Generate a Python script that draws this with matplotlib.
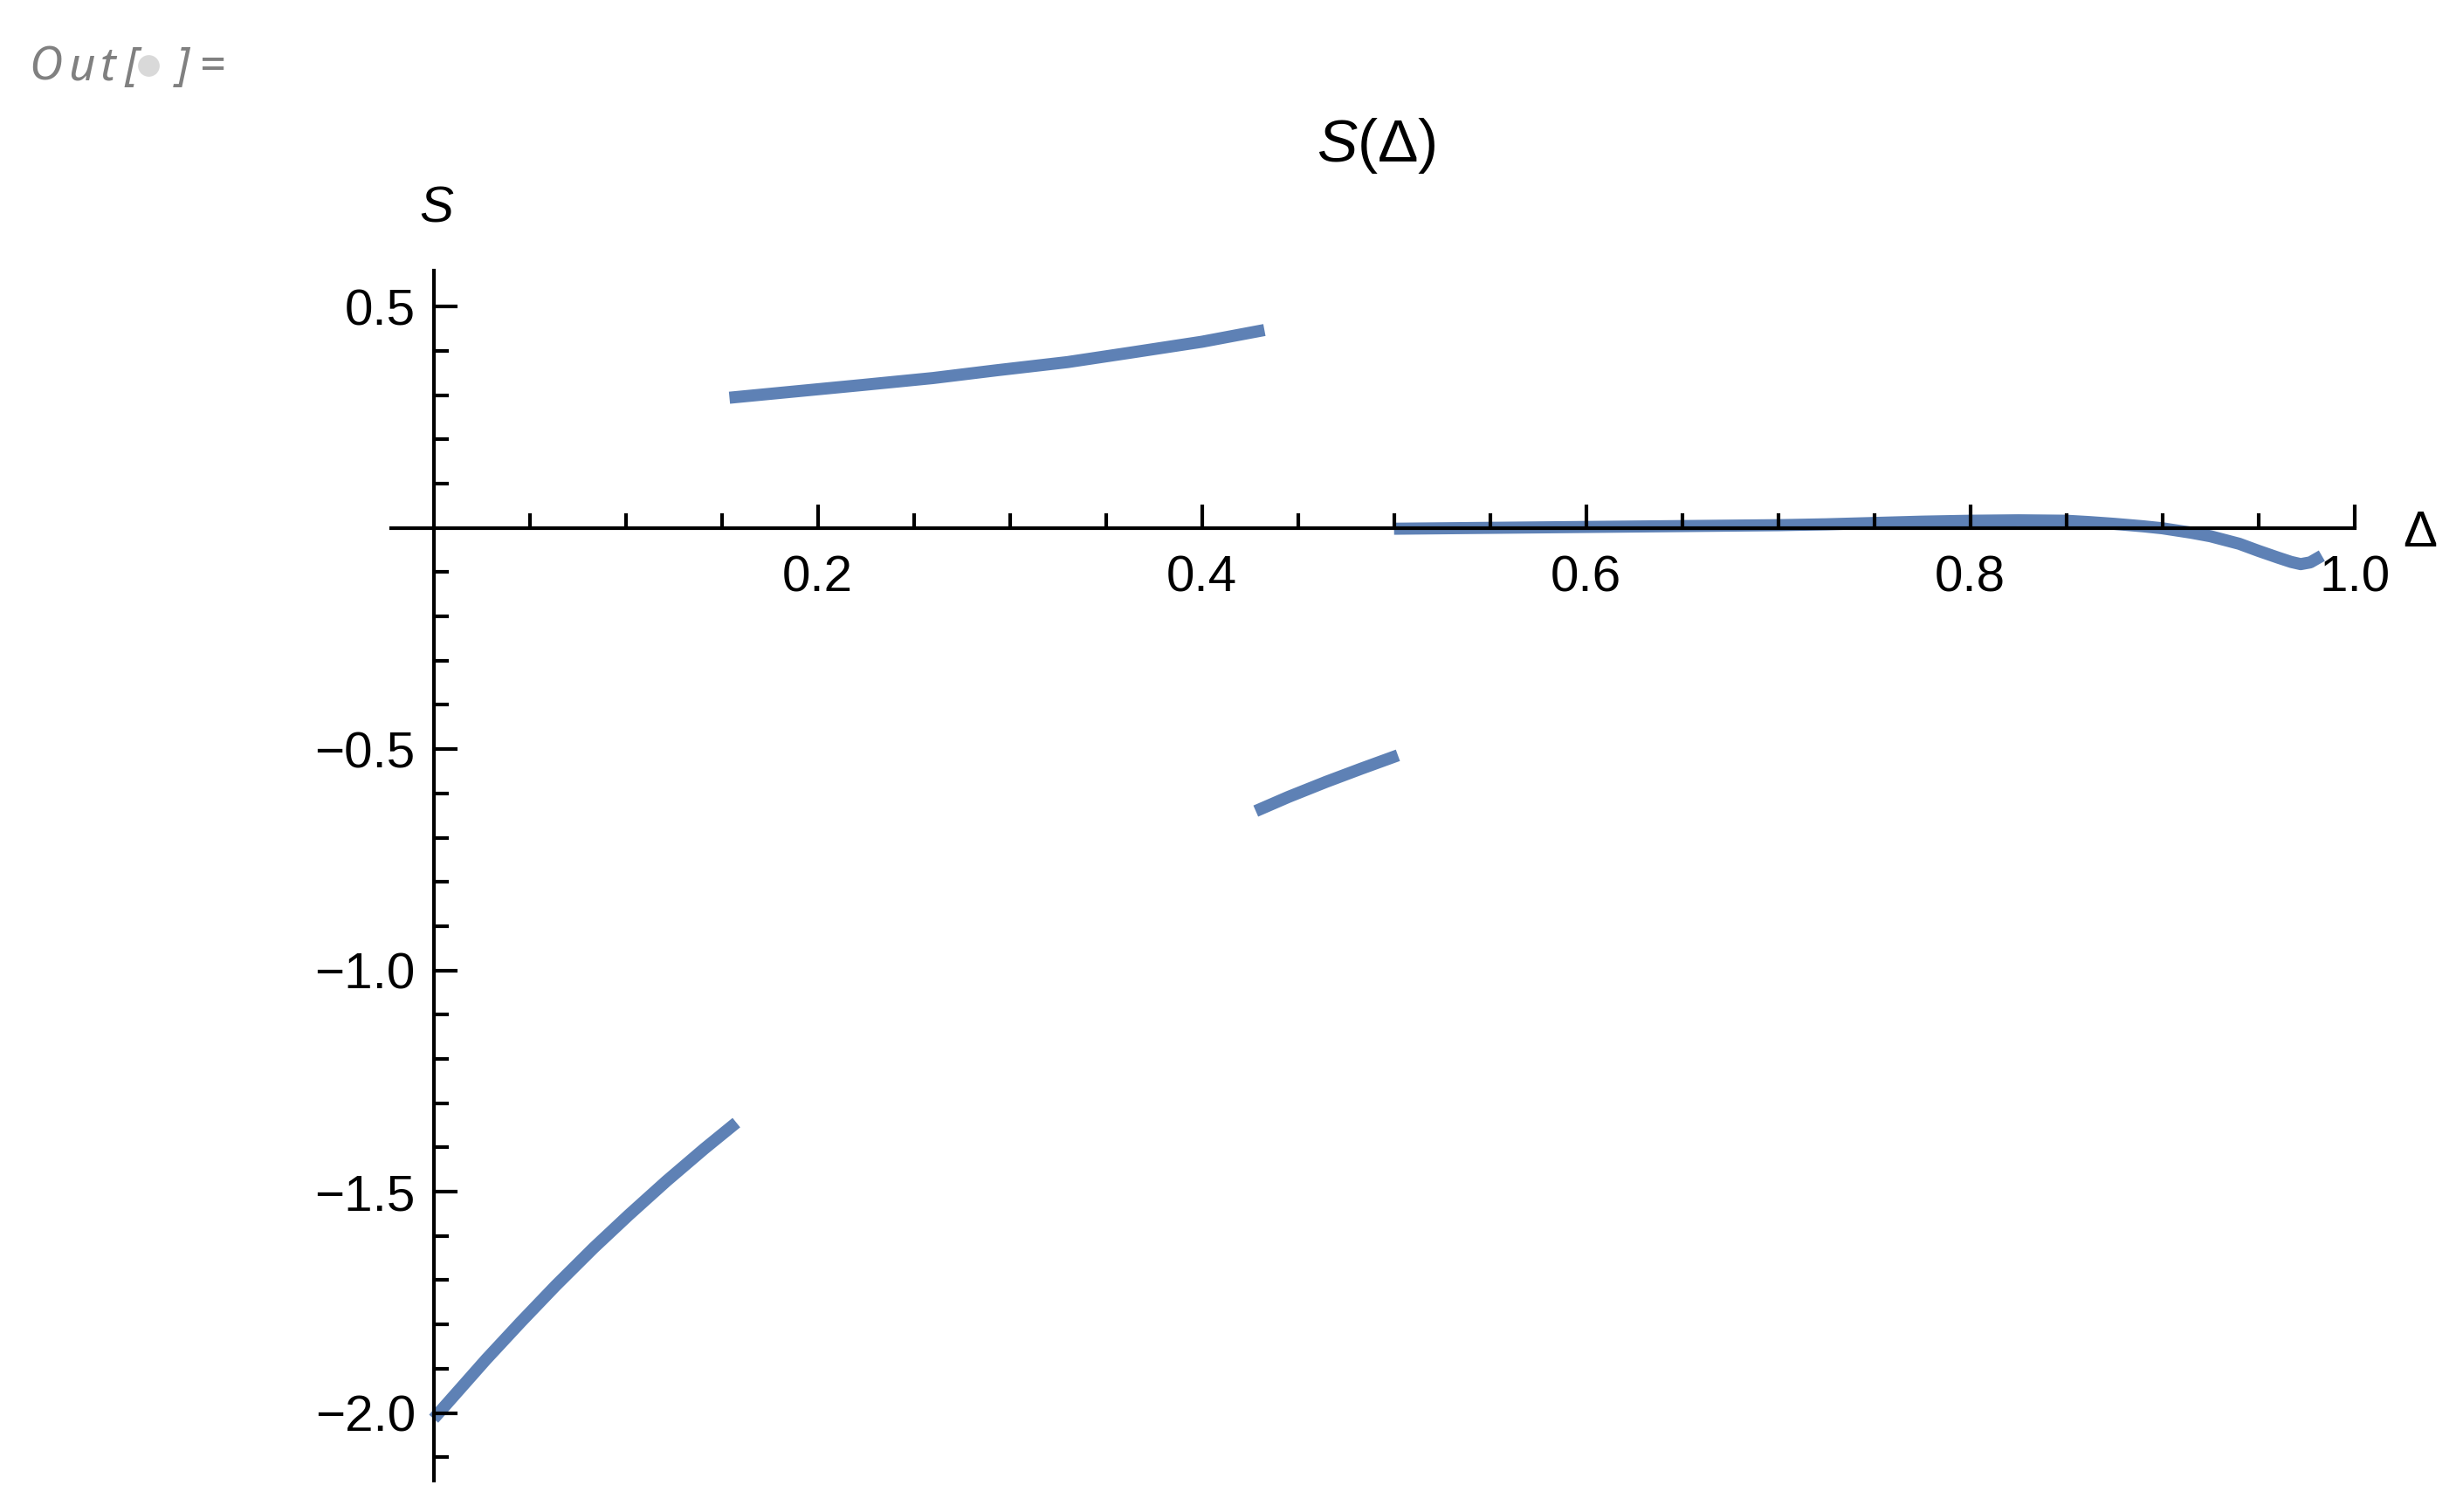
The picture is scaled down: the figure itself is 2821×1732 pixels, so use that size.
import matplotlib
matplotlib.use("Agg")
import matplotlib.pyplot as plt
from matplotlib.lines import Line2D
from matplotlib.ticker import FixedLocator, FixedFormatter

plt.rcParams["font.family"] = ["Liberation Sans", "DejaVu Sans"]
plt.rcParams["mathtext.fontset"] = "custom"
plt.rcParams["mathtext.it"] = "Liberation Sans:italic"
plt.rcParams["mathtext.rm"] = "Liberation Sans"

# branches of S(Delta)
delta_1 = [0.0, 0.0273, 0.0455, 0.0636, 0.0833, 0.1015, 0.1212, 0.1409, 0.1576]
s_1 = [-2.013, -1.879, -1.794, -1.712, -1.627, -1.553, -1.476, -1.403, -1.344]

delta_2 = [0.154, 0.19, 0.2237, 0.26, 0.293, 0.33, 0.363, 0.40, 0.4325]
s_2 = [0.294, 0.309, 0.323, 0.3385, 0.356, 0.3745, 0.396, 0.4205, 0.447]

delta_3 = [0.428, 0.445, 0.4646, 0.483, 0.502]
s_3 = [-0.640, -0.608, -0.574, -0.544, -0.514]

delta_4 = [0.5, 0.55, 0.6, 0.65, 0.7, 0.725, 0.75, 0.775, 0.8, 0.825, 0.85,
           0.862, 0.875, 0.89, 0.9, 0.915, 0.925, 0.94, 0.95, 0.96, 0.967,
           0.972, 0.977, 0.983]
s_4 = [-0.002, 0.000, 0.002, 0.004, 0.006, 0.008, 0.011, 0.014, 0.016, 0.017,
       0.016, 0.013, 0.009, 0.0035, -0.001, -0.011, -0.019, -0.036, -0.052,
       -0.067, -0.077, -0.082, -0.078, -0.063]

x_ticks = [0.2, 0.4, 0.6, 0.8, 1.0]
x_tick_labels = ["0.2", "0.4", "0.6", "0.8", "1.0"]
x_minor = [0.05, 0.1, 0.15, 0.25, 0.3, 0.35, 0.45, 0.5, 0.55, 0.65, 0.7,
           0.75, 0.85, 0.9, 0.95]
y_ticks = [-2.0, -1.5, -1.0, -0.5, 0.5]
y_tick_labels = ["\u22122.0", "\u22121.5", "\u22121.0", "\u22120.5", "0.5"]
y_minor = [-2.1, -1.9, -1.8, -1.7, -1.6, -1.4, -1.3, -1.2, -1.1, -0.9, -0.8,
           -0.7, -0.6, -0.4, -0.3, -0.2, -0.1, 0.1, 0.2, 0.3, 0.4]

W, H = 2821, 1732
fig = plt.figure(figsize=(W / 200, H / 200), dpi=200)
ax = fig.add_axes([448.3 / W, 36.4 / H, 2248.4 / W, 1386.0 / H])
ax.set_xlim(-0.022, 1.0)
ax.set_ylim(-2.152, 0.582)

blue = "#5E81B5"
for xs, ys in [(delta_1, s_1), (delta_2, s_2), (delta_3, s_3), (delta_4, s_4)]:
    ax.plot(xs, ys, color=blue, lw=5.0, solid_capstyle="butt",
            solid_joinstyle="round", zorder=1, clip_on=False)

for side in ["top", "right"]:
    ax.spines[side].set_visible(False)
ax.spines["left"].set_position(("data", 0))
ax.spines["bottom"].set_position(("data", 0))
for side in ["left", "bottom"]:
    ax.spines[side].set_linewidth(1.5)
    ax.spines[side].set_zorder(3)

ax.xaxis.set_major_locator(FixedLocator(x_ticks))
ax.xaxis.set_major_formatter(FixedFormatter(x_tick_labels))
ax.xaxis.set_minor_locator(FixedLocator(x_minor))
ax.yaxis.set_major_locator(FixedLocator(y_ticks))
ax.yaxis.set_major_formatter(FixedFormatter(y_tick_labels))
ax.yaxis.set_minor_locator(FixedLocator(y_minor))
ax.tick_params(which="major", direction="in", length=9.7, width=1.5,
               labelsize=21, zorder=3)
ax.tick_params(which="minor", direction="in", length=6.0, width=1.5, zorder=3)
ax.tick_params(axis="x", which="major", pad=11)
ax.tick_params(axis="y", which="major", pad=7.5)
ax.set_axisbelow(False)

ax.text(1.034, -0.0424, "\u0394", fontsize=21, ha="center", va="baseline",
        clip_on=False)
ax.text(0.0012, 0.69, "S", fontsize=21, style="italic", ha="center",
        va="baseline", clip_on=False)

fig.text(1576 / W, 1 - 185 / H, "$S$(\u0394)", fontsize=25, ha="center",
         va="baseline")

# notebook output prompt
grey = "#808080"
for ch, cx in [("O", 52), ("u", 93), ("t", 123), ("[", 150), ("]", 209), ("=", 243)]:
    fig.text(cx / W, 1 - 91.7 / H, ch, fontsize=19, style="italic",
             family="Noto Sans", color=grey, ha="center", va="baseline")
fig.add_artist(Line2D([170 / W], [1 - 75 / H], marker="o", markersize=7.9,
                      color="#D9D9D9", transform=fig.transFigure))

fig.savefig("out.png", dpi=200)
